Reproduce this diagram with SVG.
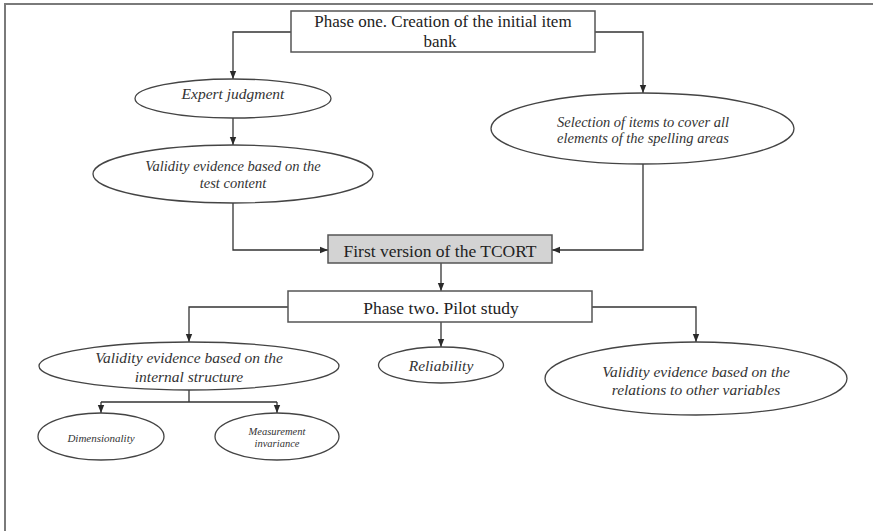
<svg xmlns="http://www.w3.org/2000/svg" width="873" height="531" viewBox="0 0 873 531">
<defs>
<marker id="arr" viewBox="0 0 8 8" refX="8" refY="4" markerWidth="8" markerHeight="8" markerUnits="userSpaceOnUse" orient="auto">
<path d="M0,0.8 L8,4 L0,7.2 Z" fill="#2a2a2a"/>
</marker>
<style>
.frame{stroke:#7a7a7a;stroke-width:2;fill:none}
.box{fill:#fff;stroke:#555;stroke-width:1.5}
.gbox{fill:#d3d3d3;stroke:#555;stroke-width:1.5}
.ell{fill:#fff;stroke:#444;stroke-width:1.3}
.c{fill:none;stroke:#333;stroke-width:1.3}
.ca{fill:none;stroke:#333;stroke-width:1.3;marker-end:url(#arr)}
.r{font-family:"Liberation Serif","Times New Roman",serif;font-size:17.5px;fill:#222;text-anchor:middle}
.i{font-family:"Liberation Serif","Times New Roman",serif;font-style:italic;font-size:15.5px;fill:#333;text-anchor:middle}
.s{font-family:"Liberation Serif","Times New Roman",serif;font-style:italic;font-size:11px;fill:#333;text-anchor:middle}
</style>
</defs>
<rect width="873" height="531" fill="#fff"/>
<path class="frame" d="M5,531 V4 H873"/>
<g id="connectors">
<path class="ca" d="M291,32 H233 V79"/>
<path class="ca" d="M595,32 H643 V93"/>
<path class="ca" d="M233,118 V145"/>
<path class="ca" d="M233,203 V250 H328"/>
<path class="ca" d="M643,164 V250 H552"/>
<path class="ca" d="M441,263 V291"/>
<path class="ca" d="M288,307 H189 V342"/>
<path class="ca" d="M441,322 V347"/>
<path class="ca" d="M592,307 H696 V342"/>
<path class="c" d="M189,390 V402 M101,402 H277"/>
<path class="ca" d="M101,402 V413"/>
<path class="ca" d="M277,402 V413"/>
</g>
<g id="phase-one">
<rect class="box" x="291" y="11" width="304" height="41"/>
<text class="r" x="443" y="27" style="font-size:17px">Phase one. Creation of the initial item</text>
<text class="r" x="440" y="46.5" style="font-size:17px">bank</text>
</g>
<g id="expert-judgment">
<ellipse class="ell" cx="233" cy="98.5" rx="98" ry="19.5"/>
<text class="i" x="233" y="99">Expert judgment</text>
</g>
<g id="validity-content">
<ellipse class="ell" cx="233" cy="174" rx="140" ry="29"/>
<text class="i" x="233" y="171" style="font-size:14.5px">Validity evidence based on the</text>
<text class="i" x="233" y="188" style="font-size:14.5px">test content</text>
</g>
<g id="selection-items">
<ellipse class="ell" cx="642.5" cy="128.5" rx="151.5" ry="35.5"/>
<text class="i" x="643" y="127" style="font-size:14.5px">Selection of items to cover all</text>
<text class="i" x="643" y="143" style="font-size:14.5px">elements of the spelling areas</text>
</g>
<g id="first-version">
<rect class="gbox" x="328" y="235" width="224" height="28"/>
<text class="r" x="440" y="256.5">First version of the TCORT</text>
</g>
<g id="phase-two">
<rect class="box" x="288" y="291" width="304" height="31"/>
<text class="r" x="441" y="314">Phase two. Pilot study</text>
</g>
<g id="internal-structure">
<ellipse class="ell" cx="189" cy="366" rx="150" ry="24"/>
<text class="i" x="189" y="363">Validity evidence based on the</text>
<text class="i" x="189" y="382">internal structure</text>
</g>
<g id="reliability">
<ellipse class="ell" cx="441" cy="365" rx="62.5" ry="18"/>
<text class="i" x="441" y="371">Reliability</text>
</g>
<g id="relations">
<ellipse class="ell" cx="696" cy="378.5" rx="151" ry="36.5"/>
<text class="i" x="696" y="377">Validity evidence based on the</text>
<text class="i" x="696" y="395">relations to other variables</text>
</g>
<g id="dimensionality">
<ellipse class="ell" cx="101" cy="436.5" rx="63" ry="23.5"/>
<text class="s" x="101" y="442">Dimensionality</text>
</g>
<g id="measurement-invariance">
<ellipse class="ell" cx="277" cy="436.5" rx="62" ry="23.5"/>
<text class="s" x="277" y="435" style="font-size:10.5px">Measurement</text>
<text class="s" x="277" y="447" style="font-size:10.5px">invariance</text>
</g>
</svg>
